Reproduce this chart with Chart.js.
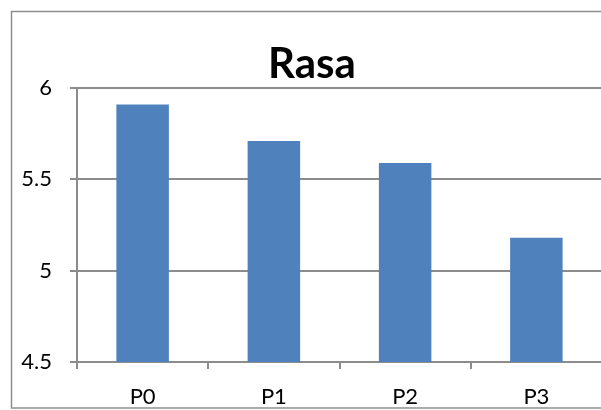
<!DOCTYPE html>
<html>
<head>
<meta charset="utf-8">
<script src="https://cdn.jsdelivr.net/npm/chart.js@4"></script>
<style>
  html, body { margin: 0; padding: 0; background: #fff; overflow: hidden; }
  #wrap { width: 601px; height: 410px; overflow: hidden; }
</style>
</head>
<body>
<div id="wrap"><canvas id="barChart" width="614" height="410"></canvas></div>
<script>
const chartTitle = 'Rasa'
const categories = ['P0', 'P1', 'P2', 'P3']
const rasaValues = [5.91, 5.71, 5.59, 5.18]
const yTicks = [4.5, 5, 5.5, 6]

const frame = {
  id: 'frame',
  beforeDraw: (chart) => {
    const ctx = chart.ctx;
    ctx.save();
    ctx.fillStyle = '#fff';
    ctx.fillRect(0, 0, chart.width, chart.height);
    ctx.strokeStyle = '#8e8e8e';
    ctx.lineWidth = 1.5;
    ctx.strokeRect(11.5, 11.5, 601, 396.5);
    ctx.restore();
  },
  afterDraw: (chart) => {
    const ctx = chart.ctx;
    ctx.save();
    ctx.fillStyle = '#000';
    ctx.font = 'bold 42px Lato';
    ctx.textAlign = 'center';
    ctx.textBaseline = 'alphabetic';
    ctx.fillText(chartTitle, 312, 78);
    ctx.restore();
  }
}

const renderChart = () => {
  const ctx = document.getElementById('barChart').getContext('2d');
  new Chart(ctx, {
    type: 'bar',
    data: {
      labels: categories,
      datasets: [{
        label: chartTitle,
        data: rasaValues,
        backgroundColor: '#4f81bd',
        borderWidth: 0,
        barPercentage: 0.4,
        categoryPercentage: 1
      }]
    },
    options: {
      responsive: false,
      animation: false,
      layout: { padding: { top: 88, right: 12, left: 0, bottom: 0 } },
      plugins: { legend: { display: false }, title: { display: false }, tooltip: { enabled: false } },
      scales: {
        x: {
          afterFit: (s) => { s.height = 48; },
          grid: { drawOnChartArea: false, drawTicks: true, tickLength: 7, color: '#8c8c8c', lineWidth: 2 },
          border: { display: true, color: '#8c8c8c', width: 2 },
          ticks: { color: '#000', font: { family: 'Lato', size: 22 }, padding: 15 }
        },
        y: {
          min: 4.5,
          max: 6,
          afterFit: (s) => { s.width = 77; },
          afterBuildTicks: (s) => { s.ticks = yTicks.map(v => ({ value: v })); },
          grid: { color: '#8c8c8c', lineWidth: 2, tickLength: 7 },
          border: { display: true, color: '#8c8c8c', width: 2 },
          ticks: {
            color: '#000',
            font: { family: 'Lato', size: 22 },
            padding: 18,
            callback: (v) => String(v)
          }
        }
      }
    },
    plugins: [frame]
  });
}

renderChart()
</script>
</body>
</html>
